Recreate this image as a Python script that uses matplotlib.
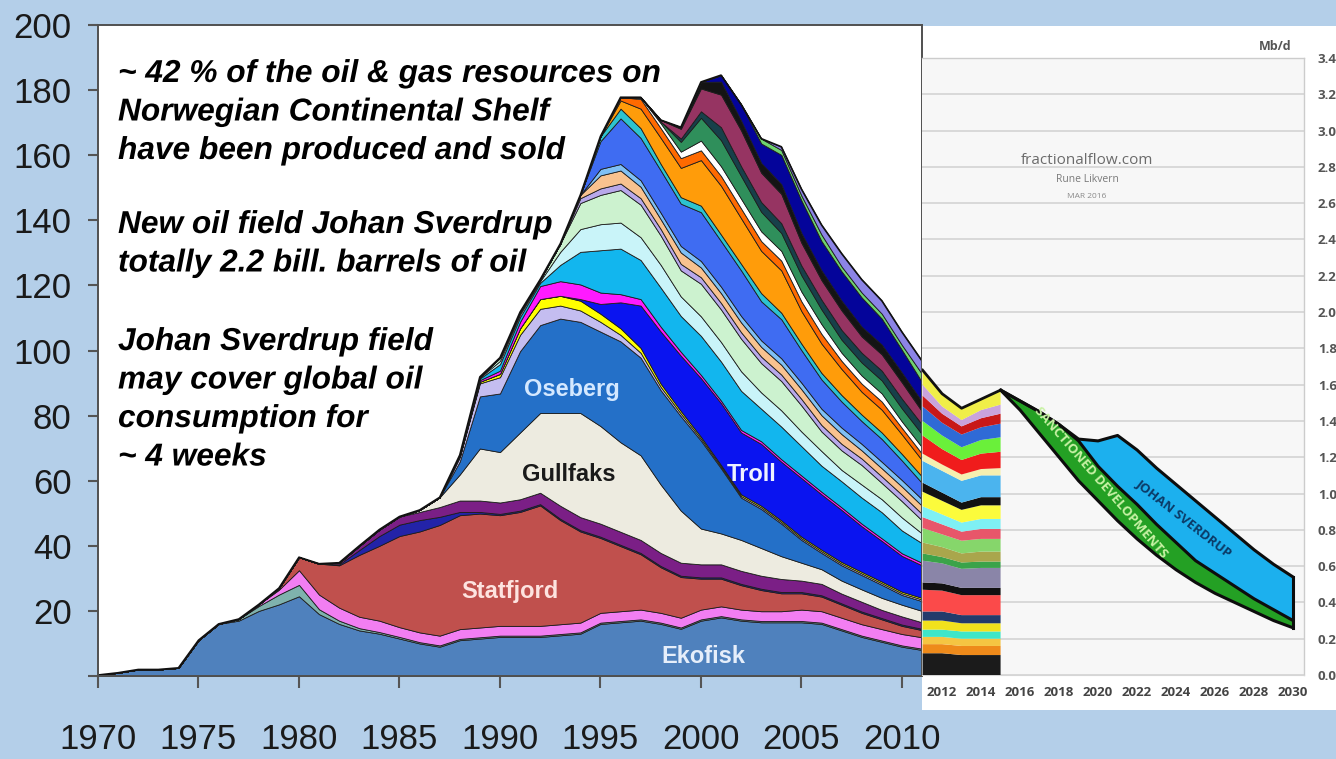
import numpy as np
import matplotlib
matplotlib.use("Agg")
import matplotlib.pyplot as plt
import matplotlib.patheffects as pe
from matplotlib.patches import Rectangle

# ---------------- data: Norwegian shelf production by field (main chart) ----------------
years = list(range(1970, 2012))

ekofisk = [0.3, 1, 2, 2, 2.5, 11, 16, 17, 20, 22,
           24.5, 19, 16, 14, 13, 11.5, 10, 9, 11, 11.5,
           12, 12, 12, 12.5, 13, 16, 16.5, 17, 16, 14.5,
           17, 18, 17, 16.5, 16.5, 16.5, 16, 14, 12, 10.5,
           9, 8]
teal_thin = [0] * 7 + [0.5, 1.5, 3, 3.5, 1.5, 1, 0.7, 0.5, 0.5] + [0.4] * 26
pink = [0] * 8 + [0.5, 1.5, 4.5, 4.5, 4, 3.5, 3.5] + [3] * 20 + [3.5] * 7
statfjord = [0] * 9 + [0.5, 4, 9.5, 13, 19, 23, 28, 31, 34, 35, 35, 34, 35, 37, 32, 28, 23,
                       20, 17, 14, 12.5, 9.5, 8.5, 7.5, 6.5, 5.5, 5, 4.5, 4, 3.5, 3, 2.5, 2.2]
navy_thin = [0] * 12 + [0.3, 1.5, 3, 3.5, 3.5, 2.5, 1, 0.5] + [0.4] * 22
purple = [0] * 12 + [0.5, 1.3, 2, 2.5, 2.5, 3, 3.5, 3.5, 3.5, 3.5, 3.5, 4, 4, 4, 4, 4, 4, 4,
                     4, 4, 4, 4, 4, 3.5, 3.5, 3, 3, 2.5, 2.5, 2]
gullfaks = [0] * 16 + [0.6, 3, 8, 16, 15.5, 20.5, 24.5, 28.5, 32, 30, 27.5, 26, 21, 16, 11,
                       9.5, 9.5, 8.5, 7, 5.5, 4.5, 4, 3.8, 3.7, 3.6, 3.5]
oseberg = [0] * 18 + [4, 16, 18, 25, 27, 29, 28, 29, 31, 30, 29, 29, 27, 20, 13, 12, 10, 7,
                      5, 4.7, 4.4, 4, 3, 3]
lavender = [0] * 18 + [1.5, 4, 5, 5, 5, 4, 3.5, 3, 2, 1.5, 1, 0.8, 0.6] + [0.5] * 11
yellow = [0] * 19 + [0.5, 1, 2, 3, 3, 3, 2.5, 2, 1.5, 1, 0.8, 0.6] + [0.5] * 11
troll = [0] * 24 + [0.5, 3, 8, 13, 16, 17, 18, 19, 19, 19, 18, 18, 17, 16, 14, 12.5, 11, 10]
magenta = [0] * 19 + [0.5, 1, 2, 4, 4.5, 4.5, 3.5, 2.5, 2, 1.5, 1.2, 1] + [0.8] * 11

# smaller fields, 1988-2011
pre = [0] * 18
cyan = pre + [0.3, 0.5, 2, 1.5, 1, 5, 10, 13, 14, 12, 12, 11, 12, 12, 12, 10, 10, 9, 8, 8, 8, 8, 7, 6]
light_cyan = pre + [0, 0.3, 1, 0.8, 0.5, 4, 7, 8, 8, 7, 7, 6, 6, 6, 6, 5, 5, 4.5, 4.5, 3.5, 4, 4, 4, 3]
pale_green = pre + [0.2, 0.2, 1, 0.7, 0.5, 2.5, 8, 9, 10, 10, 9, 8, 10, 10, 10, 9, 9, 8, 6, 6, 6, 5, 5, 4]
lilac = pre + [0] * 6 + [1.5] + [2] * 17
peach = pre + [0] * 6 + [1, 4, 4, 3.5, 3, 3.5, 3, 3, 3, 3, 3, 3, 3, 3, 2.5, 2.5, 2.5, 2.5]
light_blue = pre + [0] * 7 + [2] * 17
royal_blue = pre + [0] * 7 + [8.5, 14, 13, 13, 13, 15, 14, 14, 12, 12, 10, 9, 8, 7, 7, 6, 5]
teal = pre + [0] * 7 + [1.5, 3, 3, 2, 2, 2, 2, 2, 2.5, 2, 2, 2, 2, 2, 2, 2, 2]
orange = pre + [0] * 8 + [2.5, 6, 8, 9, 14, 15, 14, 13, 13, 10, 9, 8, 7, 7, 6, 5]
dark_orange = pre + [0] * 8 + [1, 3, 3, 3, 3, 3, 3, 3, 3, 3, 3, 2.5, 2.5, 2.5, 2, 2]
white_band = pre + [0] * 9 + [0.5, 1.5, 2, 3, 3, 3, 3, 3, 3, 3, 2.5, 2.5, 2.5, 2, 2]
sea_green = pre + [0] * 10 + [0.5, 3, 7, 8, 7, 6, 5.5, 5, 4.5, 4, 4, 4, 4, 4]
dark_slate = pre + [0] * 11 + [1, 2, 4, 3, 3, 3, 3, 3, 3, 3, 3, 3, 3]
maroon = pre + [0] * 10 + [0.5, 3, 7, 10, 11, 9, 9, 7, 6, 6, 5, 5, 5, 4]
black = pre + [0] * 11 + [0.5, 2, 4, 3, 3, 3, 3, 3, 3, 3, 3, 3, 3]
navy = pre + [0] * 13 + [2, 5, 6, 9, 10, 9, 9, 9, 8, 7, 6]
light_green = pre + [0] * 15 + [1.5, 1.5, 1.5, 2, 1.5, 1.5, 1.5, 1.5, 2.5]
slate_blue = pre + [0] * 16 + [1, 2, 3, 4, 4, 4, 4, 4]

layers = [ekofisk, teal_thin, pink, statfjord, navy_thin, purple, gullfaks, oseberg,
          lavender, yellow, troll, magenta, cyan, light_cyan, pale_green, lilac, peach,
          light_blue, royal_blue, teal, orange, dark_orange, white_band, sea_green,
          dark_slate, maroon, black, navy, light_green, slate_blue]
layer_colors = ['#4f81bd', '#7fb2ad', '#f27ef2', '#c0504d', '#2323a8', '#7b1f86', '#edebe0',
                '#2470c8', '#c4bdf0', '#ffff00', '#0a14f0', '#ff1aff', '#12b6ee', '#c9f4f9',
                '#ccf2cf', '#b8a8ea', '#f8c28f', '#7fc0f5', '#3f6cf2', '#2dc3cf', '#ff9c0a',
                '#ff6a00', '#ffffff', '#2f8f5b', '#17404a', '#963462', '#141414', '#04049a',
                '#6fd46f', '#8c84e6']

field_labels = ['Oseberg', 'Gullfaks', 'Troll', 'Statfjord', 'Ekofisk']
label_pos = [(1993.6, 88), (1993.4, 62), (2002.5, 62), (1990.5, 26), (2000.1, 6)]
label_colors = ['#d4e8ff', '#1a1a1a', '#eef2ff', '#fde3e0', '#e6eefa']

notes = [["~ 42 % of the oil & gas resources on", "Norwegian Continental Shelf",
          "have been produced and sold"],
         ["New oil field Johan Sverdrup", "totally 2.2 bill. barrels of oil"],
         ["Johan Sverdrup field", "may cover global oil", "consumption for", "~ 4 weeks"]]

# ---------------- data: inset (fractionalflow.com, Mb/d) ----------------
inset_years = [2011, 2012, 2013, 2014, 2015]
inset_layers = [
    [0.12, 0.12, 0.11, 0.11, 0.11],
    [0.05, 0.05, 0.05, 0.05, 0.05],
    [0.04, 0.04, 0.04, 0.04, 0.04],
    [0.04, 0.04, 0.04, 0.04, 0.04],
    [0.05, 0.05, 0.045, 0.045, 0.045],
    [0.05, 0.05, 0.045, 0.045, 0.045],
    [0.12, 0.115, 0.11, 0.11, 0.11],
    [0.04, 0.04, 0.04, 0.04, 0.04],
    [0.12, 0.11, 0.105, 0.11, 0.11],
    [0.04, 0.035, 0.035, 0.035, 0.035],
    [0.06, 0.055, 0.05, 0.055, 0.055],
    [0.08, 0.07, 0.07, 0.07, 0.07],
    [0.06, 0.055, 0.05, 0.055, 0.055],
    [0.06, 0.055, 0.05, 0.055, 0.055],
    [0.08, 0.075, 0.07, 0.075, 0.075],
    [0.05, 0.045, 0.04, 0.045, 0.045],
    [0.12, 0.12, 0.12, 0.12, 0.12],
    [0.04, 0.035, 0.035, 0.035, 0.04],
    [0.10, 0.085, 0.08, 0.085, 0.09],
    [0.08, 0.075, 0.07, 0.075, 0.08],
    [0.08, 0.07, 0.07, 0.07, 0.075],
    [0.06, 0.05, 0.045, 0.05, 0.055],
    [0.06, 0.04, 0.035, 0.045, 0.05],
    [0.08, 0.07, 0.065, 0.06, 0.08],
]
inset_colors = ['#1b1b1b', '#ee8a1a', '#f5c542', '#3ee6c8', '#f2e21d', '#243b6b', '#fb4a4a',
                '#111111', '#8a85a8', '#3aa34a', '#a9a64c', '#86d66b', '#e8566a', '#7ef0f4',
                '#fbfb3c', '#121212', '#4bb4ee', '#f6efb0', '#f01c1c', '#6af03a', '#2f6ad6',
                '#c81818', '#c9a3dc', '#f0ee48']

proj_years = list(range(2015, 2031))
proj_base = [1.57, 1.46, 1.33, 1.20, 1.07, 0.96, 0.85, 0.75, 0.66, 0.58, 0.51, 0.45, 0.40,
             0.35, 0.30, 0.26]
proj_sanctioned = [0, 0.05, 0.12, 0.18, 0.22, 0.19, 0.19, 0.19, 0.17, 0.15, 0.12, 0.11, 0.09,
                   0.07, 0.06, 0.04]
proj_sverdrup = [0, 0, 0, 0, 0.01, 0.14, 0.28, 0.30, 0.31, 0.32, 0.33, 0.31, 0.29, 0.27,
                 0.25, 0.24]

# ---------------- figure ----------------
W, H = 1336, 759
BG = '#b4cfe9'
ARIAL = ['Liberation Sans', 'DejaVu Sans']
SMALL = ['Open Sans', 'DejaVu Sans']
fig = plt.figure(figsize=(W / 100, H / 100), dpi=100, facecolor=BG)


def px_box(x0, y0, x1, y1):
    return [x0 / W, 1 - y1 / H, (x1 - x0) / W, (y1 - y0) / H]


# white panel behind the inset
fig.patches.append(Rectangle((922 / W, 1 - 710 / H), (W - 922) / W, (710 - 26) / H,
                             transform=fig.transFigure, facecolor='white',
                             edgecolor='none', zorder=-1))

# main chart
ax = fig.add_axes(px_box(98, 25, 922, 676))
ax.set_facecolor('white')
ax.stackplot(years, *layers, colors=layer_colors, edgecolor='#1c1c1c', linewidth=0.6)
total = np.sum(np.array(layers), axis=0)
ax.plot(years, total, color='#111111', lw=1.2)
ax.set_xlim(1970, 2011)
ax.set_ylim(0, 200)

ax.set_xticks(range(1970, 2011, 5))
ax.set_yticks(range(0, 201, 20))
ax.set_yticklabels([''] + [str(v) for v in range(20, 201, 20)])
ax.tick_params(axis='y', direction='out', length=7, width=1.5, color='#555555', pad=12)
ax.tick_params(axis='x', direction='out', length=8.5, width=1.5, color='#555555', pad=25)
for lab in ax.get_xticklabels() + ax.get_yticklabels():
    lab.set_family(ARIAL)
    lab.set_fontsize(25)
    lab.set_color('#1a1a1a')
for s in ax.spines.values():
    s.set_color('#505050')
    s.set_linewidth(1.4)

for name, (lx, ly), c in zip(field_labels, label_pos, label_colors):
    ax.text(lx, ly, name, ha='center', va='center', color=c, fontsize=17,
            fontweight='bold', family=ARIAL, zorder=5)

halo = [pe.withStroke(linewidth=5, foreground='white')]
starts = [82, 233, 350]
for block, y0 in zip(notes, starts):
    for i, line in enumerate(block):
        fig.text(118 / W, 1 - (y0 + i * 38.5) / H, line, ha='left', va='baseline',
                 fontsize=22.8, fontweight='bold', fontstyle='italic',
                 family=ARIAL, color='black', path_effects=halo, zorder=10)

# inset chart
ax2 = fig.add_axes(px_box(922, 58, 1304, 675))
ax2.set_facecolor('#f7f7f7')
ax2.set_xlim(2010.97, 2030.56)
ax2.set_ylim(0, 3.4)
ax2.set_yticks(np.arange(0, 3.41, 0.2))
ax2.grid(axis='y', color='#d6d6d6', lw=1.3)
ax2.set_axisbelow(True)
ax2.yaxis.tick_right()
ax2.set_yticklabels([f'{v:.1f}' for v in np.arange(0, 3.41, 0.2)])
ax2.set_xticks(range(2012, 2031, 2))
ax2.tick_params(axis='y', length=0, pad=10, labelsize=9.5, labelcolor='#555555')
ax2.tick_params(axis='x', length=0, pad=8, labelsize=9.5, labelcolor='#444444')
for lab in ax2.get_xticklabels() + ax2.get_yticklabels():
    lab.set_fontweight('bold')
    lab.set_family(SMALL)
ax2.spines['left'].set_visible(False)
ax2.spines['bottom'].set_color('#d6d6d6')
for side in ('top', 'right'):
    ax2.spines[side].set_color('#cccccc')
    ax2.spines[side].set_linewidth(1)

ax2.stackplot(inset_years, *inset_layers, colors=inset_colors, linewidth=0, zorder=3)
inset_total = np.sum(np.array(inset_layers), axis=0)
ax2.plot(inset_years, inset_total, color='#111111', lw=2, zorder=4)

base = np.array(proj_base)
green_top = base + np.array(proj_sanctioned)
proj_total = green_top + np.array(proj_sverdrup)
ax2.fill_between(proj_years, base, green_top, color='#24a024', lw=0, zorder=3)
ax2.fill_between(proj_years, green_top, proj_total, color='#1cb0ee', lw=0, zorder=3)
for line in (base, green_top, proj_total):
    ax2.plot(proj_years, line, color='#0d0d0d', lw=2.2, zorder=4, solid_capstyle='round')
ax2.plot([proj_years[-1]] * 2, [base[-1], proj_total[-1]], color='#0d0d0d', lw=2.2, zorder=4)

ax2.text(2020.15, 1.06, 'SANCTIONED DEVELOPMENTS', rotation=-49, ha='center', va='center',
         fontsize=9.5, fontweight='bold', color='#c9f2a6', family=SMALL, zorder=6)
ax2.text(2024.4, 0.86, 'JOHAN SVERDRUP', rotation=-38, ha='center', va='center',
         fontsize=9.5, fontweight='bold', color='#0b3a66', family=SMALL, zorder=6)

fig.text(1087 / W, 1 - 160 / H, 'fractionalflow.com', ha='center', va='center', fontsize=11,
         color='#6b6b6b', family=SMALL)
fig.text(1087 / W, 1 - 180 / H, 'Rune Likvern', ha='center', va='center', fontsize=7.5,
         color='#7a7a7a', family=SMALL)
fig.text(1087 / W, 1 - 196 / H, 'MAR 2016', ha='center', va='center', fontsize=6,
         color='#8a8a8a', family=SMALL)
fig.text(1275 / W, 1 - 47 / H, 'Mb/d', ha='center', va='center', fontsize=9,
         fontweight='bold', color='#555555', family=SMALL)

fig.savefig('out.png', dpi=100, facecolor=BG)
